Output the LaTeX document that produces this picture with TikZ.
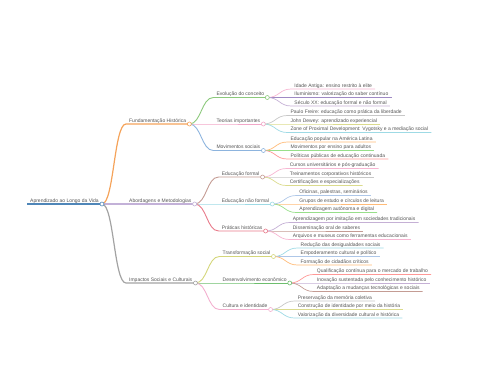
\documentclass[tikz,border=0pt]{standalone}
\usepackage{fontspec}
\setmainfont{Liberation Sans}
\usepackage{tikz}
\definecolor{textGray}{HTML}{555555}
\definecolor{lineRoot}{HTML}{4F86B8}
\definecolor{lineFund}{HTML}{F5A35A}
\definecolor{lineAbord}{HTML}{C3B1D8}
\definecolor{lineImpac}{HTML}{A3A3A3}
\definecolor{lineEvol}{HTML}{8CC97C}
\definecolor{lineTeor}{HTML}{F2A7C8}
\definecolor{lineMovs}{HTML}{8DB4DE}
\definecolor{lineEdform}{HTML}{C49C94}
\definecolor{lineEdnf}{HTML}{9EDAE5}
\definecolor{linePrat}{HTML}{E87A8A}
\definecolor{lineTransf}{HTML}{D4D67A}
\definecolor{lineDesenv}{HTML}{6DBE6D}
\definecolor{lineCult}{HTML}{F3B0CF}
\definecolor{pastelPink}{HTML}{F7B6D2}
\definecolor{pastelViolet}{HTML}{9F8AC4}
\definecolor{pastelPurple}{HTML}{C5B0D5}
\definecolor{pastelGray}{HTML}{C7C7C7}
\definecolor{pastelOlive}{HTML}{DBDB8D}
\definecolor{pastelCyan}{HTML}{9EDAE5}
\definecolor{pastelBlue}{HTML}{AEC7E8}
\definecolor{pastelOrange}{HTML}{FFBB78}
\definecolor{pastelGreen}{HTML}{98DF8A}
\definecolor{pastelRed}{HTML}{FF9896}
\definecolor{pastelBrown}{HTML}{C49C94}
\begin{document}
\begin{tikzpicture}[
    x=1pt, y=-1pt,
    lbl/.style={anchor=south west, font=\fontsize{5}{6}\selectfont, text=textGray,
                inner xsep=3pt, inner ysep=0.6pt, text height=3.7pt, text depth=1pt},
    mlink/.style={out=0, in=180, distance=12pt},
    dot/.style={circle, fill=white, line width=0.6pt, inner sep=0pt, minimum size=4pt},
    w0/.style={line width=1.6pt},
    w1/.style={line width=1.2pt},
    w2/.style={line width=0.9pt},
    w3/.style={line width=0.7pt},
]
\useasboundingbox (0,0) rectangle (480,384);

% root and first level
\node[lbl] (root) at (27,204) {Aprendizado ao Longo da Vida};
\node[lbl] (fund) at ([shift={(24,-80)}]root.south east) {Fundamentação Histórica};
\node[lbl] (abord) at ([shift={(24,0)}]root.south east) {Abordagens e Metodologias};
\node[lbl] (impac) at ([shift={(24,79)}]root.south east) {Impactos Sociais e Culturais};

% second level
\node[lbl] (evol) at ([shift={(24,-26.5)}]fund.south east) {Evolução do conceito};
\node[lbl] (teor) at ([shift={(24,0)}]fund.south east) {Teorias importantes};
\node[lbl] (movs) at ([shift={(24,26.5)}]fund.south east) {Movimentos sociais};
\node[lbl] (edform) at ([shift={(24,-27)}]abord.south east) {Educação formal};
\node[lbl] (ednf) at ([shift={(24,0)}]abord.south east) {Educação não formal};
\node[lbl] (prat) at ([shift={(24,27)}]abord.south east) {Práticas históricas};
\node[lbl] (transf) at ([shift={(24,-26.5)}]impac.south east) {Transformação social};
\node[lbl] (desenv) at ([shift={(24,0)}]impac.south east) {Desenvolvimento econômico};
\node[lbl] (cult) at ([shift={(24,26.5)}]impac.south east) {Cultura e identidade};

% leaves
\node[lbl] (idade) at ([shift={(24,-8.5)}]evol.south east) {Idade Antiga: ensino restrito à elite};
\node[lbl] (ilum) at ([shift={(24,0)}]evol.south east) {Iluminismo: valorização do saber contínuo};
\node[lbl] (seculo) at ([shift={(24,8.5)}]evol.south east) {Século XX: educação formal e não formal};
\node[lbl] (freire) at ([shift={(24,-8.5)}]teor.south east) {Paulo Freire: educação como prática da liberdade};
\node[lbl] (dewey) at ([shift={(24,0)}]teor.south east) {John Dewey: aprendizado experiencial};
\node[lbl] (zone) at ([shift={(24,8.5)}]teor.south east) {Zone of Proximal Development: Vygotsky e a mediação social};
\node[lbl] (popular) at ([shift={(24,-8.5)}]movs.south east) {Educação popular na América Latina};
\node[lbl] (adultos) at ([shift={(24,0)}]movs.south east) {Movimentos por ensino para adultos};
\node[lbl] (politicas) at ([shift={(24,8.5)}]movs.south east) {Políticas públicas de educação continuada};
\node[lbl] (cursos) at ([shift={(24,-8.5)}]edform.south east) {Cursos universitários e pós-graduação};
\node[lbl] (treinos) at ([shift={(24,0)}]edform.south east) {Treinamentos corporativos históricos};
\node[lbl] (certif) at ([shift={(24,8.5)}]edform.south east) {Certificações e especializações};
\node[lbl] (oficinas) at ([shift={(24,-8.5)}]ednf.south east) {Oficinas, palestras, seminários};
\node[lbl] (grupos) at ([shift={(24,0)}]ednf.south east) {Grupos de estudo e círculos de leitura};
\node[lbl] (autonoma) at ([shift={(24,8.5)}]ednf.south east) {Aprendizagem autônoma e digital};
\node[lbl] (imitacao) at ([shift={(24,-8.5)}]prat.south east) {Aprendizagem por imitação em sociedades tradicionais};
\node[lbl] (oral) at ([shift={(24,0)}]prat.south east) {Disseminação oral de saberes};
\node[lbl] (arquivos) at ([shift={(24,8.5)}]prat.south east) {Arquivos e museus como ferramentas educacionais};
\node[lbl] (reducao) at ([shift={(24,-8.5)}]transf.south east) {Redução das desigualdades sociais};
\node[lbl] (empod) at ([shift={(24,0)}]transf.south east) {Empoderamento cultural e político};
\node[lbl] (cidadaos) at ([shift={(24,8.5)}]transf.south east) {Formação de cidadãos críticos};
\node[lbl] (qualif) at ([shift={(24,-8.5)}]desenv.south east) {Qualificação contínua para o mercado de trabalho};
\node[lbl] (inovacao) at ([shift={(24,0)}]desenv.south east) {Inovação sustentada pelo conhecimento histórico};
\node[lbl] (adapt) at ([shift={(24,8.5)}]desenv.south east) {Adaptação a mudanças tecnológicas e sociais};
\node[lbl] (memoria) at ([shift={(24,-8.5)}]cult.south east) {Preservação da memória coletiva};
\node[lbl] (identid) at ([shift={(24,0)}]cult.south east) {Construção de identidade por meio da história};
\node[lbl] (diversid) at ([shift={(24,8.5)}]cult.south east) {Valorização da diversidade cultural e histórica};

% branches: link from parent dot, then underline
\draw[w0, draw=lineRoot] (root.south west) -- (root.south east);
\foreach \pa/\ch/\co in {root/fund/lineFund, root/abord/lineAbord, root/impac/lineImpac}
  \draw[w1, draw=\co] (\pa.south east) to[mlink] (\ch.south west) -- (\ch.south east);
\foreach \pa/\ch/\co in {fund/evol/lineEvol, fund/teor/lineTeor, fund/movs/lineMovs,
    abord/edform/lineEdform, abord/ednf/lineEdnf, abord/prat/linePrat,
    impac/transf/lineTransf, impac/desenv/lineDesenv, impac/cult/lineCult}
  \draw[w2, draw=\co] (\pa.south east) to[mlink] (\ch.south west) -- (\ch.south east);
\foreach \pa/\ch/\co in {evol/idade/pastelPink, evol/ilum/pastelViolet, evol/seculo/pastelPurple,
    teor/freire/pastelGray, teor/dewey/pastelOlive, teor/zone/pastelCyan,
    movs/popular/pastelOrange, movs/adultos/pastelGreen, movs/politicas/pastelRed,
    edform/cursos/pastelPink, edform/treinos/pastelGray, edform/certif/pastelOlive,
    ednf/oficinas/pastelBlue, ednf/grupos/pastelOrange, ednf/autonoma/pastelGreen,
    prat/imitacao/pastelPurple, prat/oral/pastelBrown, prat/arquivos/pastelPink,
    transf/reducao/pastelCyan, transf/empod/pastelBlue, transf/cidadaos/pastelOrange,
    desenv/qualif/pastelRed, desenv/inovacao/pastelPurple, desenv/adapt/pastelBrown,
    cult/memoria/pastelGray, cult/identid/pastelOlive, cult/diversid/pastelCyan}
  \draw[w3, draw=\co] (\pa.south east) to[mlink] (\ch.south west) -- (\ch.south east);

% open dots on the inner nodes
\foreach \nd/\co in {root/lineRoot, fund/lineFund, abord/lineAbord, impac/lineImpac,
    evol/lineEvol, teor/lineTeor, movs/lineMovs, edform/lineEdform, ednf/lineEdnf,
    prat/linePrat, transf/lineTransf, desenv/lineDesenv, cult/lineCult}
  \node[dot, draw=\co] (\nd-dot) at (\nd.south east) {};

\end{tikzpicture}
\end{document}
